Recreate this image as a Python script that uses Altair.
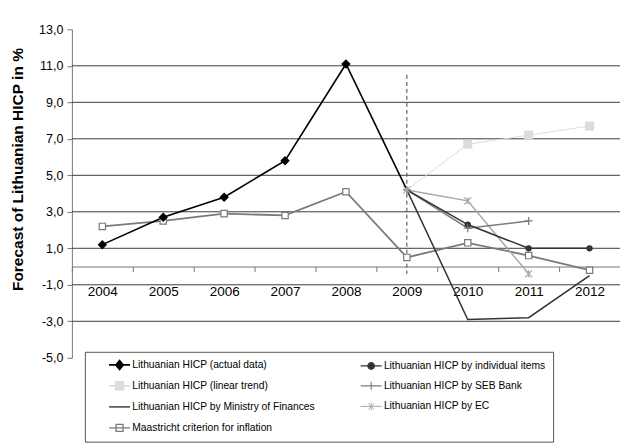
import altair as alt
import pandas as pd

# ---- values ---------------------------------------------------------------
years = ["2004", "2005", "2006", "2007", "2008", "2009", "2010", "2011", "2012"]

# legend order (two columns, filled top to bottom)
series_names = [
    "Lithuanian HICP (actual data)",
    "Lithuanian HICP (linear trend)",
    "Lithuanian HICP by Ministry of Finances",
    "Maastricht criterion for inflation",
    "Lithuanian HICP by individual items",
    "Lithuanian HICP by SEB Bank",
    "Lithuanian HICP by EC",
]
ACTUAL, TREND, MINISTRY, MAASTRICHT, ITEMS, SEB, EC = series_names

actual_years = ["2004", "2005", "2006", "2007", "2008", "2009"]
actual_values = [1.2, 2.7, 3.8, 5.8, 11.1, 4.2]

forecast_years = ["2009", "2010", "2011", "2012"]
trend_values = [4.2, 6.7, 7.2, 7.7]
ministry_values = [4.2, -2.9, -2.8, -0.5]
individual_values = [4.2, 2.3, 1.0, 1.0]

short_years = ["2009", "2010", "2011"]
seb_values = [4.2, 2.1, 2.5]
ec_values = [4.2, 3.6, -0.4]

maastricht_values = [2.2, 2.5, 2.9, 2.8, 4.1, 0.5, 1.3, 0.6, -0.2]

# start of forecasting period
split_year = "2009"
split_top = 10.5
split_bottom = -0.4

y_min, y_max = -5, 13
tick_values = list(range(-5, 14, 2))
grid_values = list(range(-3, 12, 2))

# ---- long table -----------------------------------------------------------
parts = [
    (ACTUAL, actual_years, actual_values),
    (TREND, forecast_years, trend_values),
    (MINISTRY, forecast_years, ministry_values),
    (MAASTRICHT, years, maastricht_values),
    (ITEMS, forecast_years, individual_values),
    (SEB, short_years, seb_values),
    (EC, short_years, ec_values),
]
rows = []
for name, ys, vs in parts:
    for yr, v in zip(ys, vs):
        rows.append({"series": name, "year": yr, "value": v})
df = pd.DataFrame(rows)

grid_df = pd.DataFrame({"value": grid_values})
split_df = pd.DataFrame({"year": [split_year], "value": [split_top], "bottom": [split_bottom]})

# ---- styling --------------------------------------------------------------
line_color = {
    ACTUAL: "#000000", TREND: "#dcdcdc", MINISTRY: "#333333", MAASTRICHT: "#7a7a7a",
    ITEMS: "#333333", SEB: "#7a7a7a", EC: "#a8a8a8",
}
line_width = {
    ACTUAL: 1.6, TREND: 1.0, MINISTRY: 1.5, MAASTRICHT: 1.8,
    ITEMS: 1.6, SEB: 1.5, EC: 1.5,
}
legend_fill = {
    ACTUAL: "#000000", TREND: "#dcdcdc", MINISTRY: "transparent", MAASTRICHT: "#ffffff",
    ITEMS: "#333333", SEB: "transparent", EC: "transparent",
}
# legend glyphs: a short line with the series marker on it
legend_shape = {
    ACTUAL: "M-2.1,0H2.1M-0.75,0L0,-0.9L0.75,0L0,0.9Z",
    TREND: "M-2.1,0H2.1M-0.8,-0.8H0.8V0.8H-0.8Z",
    MINISTRY: "M-2.1,0H2.1",
    MAASTRICHT: "M-2.1,0H2.1M-0.7,-0.7H0.7V0.7H-0.7Z",
    ITEMS: "M-2.1,0H2.1M0.65,0A0.65,0.65 0 1,1 -0.65,0A0.65,0.65 0 1,1 0.65,0Z",
    SEB: "M-2.1,0H2.1M0,-0.8V0.8",
    EC: "M-2.1,0H2.1M-0.6,-0.6L0.6,0.6M-0.6,0.6L0.6,-0.6M0,-0.8V0.8",
}
plus_path = "M-1,0H1M0,-1V1"
asterisk_path = "M-1,-1L1,1M-1,1L1,-1M0,-1V1"

W, H = 549, 329
zero_offset = -H * (0 - y_min) / (y_max - y_min)

FONT = "Liberation Sans"

x_enc = alt.X(
    "year:O",
    scale=alt.Scale(type="band", domain=years, paddingInner=0, paddingOuter=0),
    bandPosition=0.5,
    axis=alt.Axis(
        title=None,
        offset=zero_offset,
        tickBand="extent",
        labelAngle=0,
        labelFont=FONT,
        labelFontSize=13.5,
        labelColor="#000000",
        labelPadding=13,
        tickSize=5,
        tickColor="#777777",
        domainColor="#777777",
        grid=False,
    ),
)
y_scale = alt.Scale(domain=[y_min, y_max], nice=False, zero=False)
y_axis = alt.Axis(
    values=tick_values,
    labelExpr="replace(replace(format(datum.value, '.1f'), '.', ','), '\u2212', '-')",
    labelFont=FONT,
    labelFontSize=12.5,
    labelColor="#000000",
    labelPadding=4,
    tickSize=5,
    tickColor="#777777",
    domainColor="#777777",
    grid=False,
    title="Forecast of Lithuanian HICP in %",
    titleFont=FONT,
    titleFontSize=15.5,
    titleFontWeight="bold",
    titleColor="#000000",
    titleX=-54,
    titleY=140,
    titleAlign="center",
    titleBaseline="middle",
)
y_enc = alt.Y("value:Q", scale=y_scale, axis=y_axis)

base = alt.Chart(df)

grid = alt.Chart(grid_df).mark_rule(color="#3c3c3c", strokeWidth=1).encode(y=y_enc)

split_rule = alt.Chart(split_df).mark_rule(
    color="#444444", strokeWidth=1, strokeDash=[4, 3]
).encode(x=x_enc, y=y_enc, y2="bottom:Q")


def series_line(name):
    return base.transform_filter(f"datum.series == '{name}'").mark_line(
        color=line_color[name], strokeWidth=line_width[name]
    ).encode(x=x_enc, y=y_enc)


def markers(name, expr="true", **mark_kw):
    return base.transform_filter(
        f"datum.series == '{name}' && ({expr})"
    ).mark_point(opacity=1, **mark_kw).encode(x=x_enc, y=y_enc)


line_order = [MAASTRICHT, TREND, EC, SEB, MINISTRY, ITEMS, ACTUAL]
lines = [series_line(n) for n in line_order]

not_start = f"datum.year != '{split_year}'"
pts = [
    markers(MAASTRICHT, "true", shape="square", filled=False, size=40,
            stroke=line_color[MAASTRICHT], fill="#ffffff", strokeWidth=1.2),
    markers(ACTUAL, not_start, shape="diamond", filled=True, size=90, color=line_color[ACTUAL]),
    markers(TREND, not_start, shape="square", filled=True, size=81, color=line_color[TREND]),
    markers(ITEMS, not_start, shape="circle", filled=True, size=40, color=line_color[ITEMS]),
    markers(SEB, "true", shape=plus_path, filled=False, size=64, color=line_color[SEB], strokeWidth=1.2),
    markers(EC, "true", shape=asterisk_path, filled=False, size=49, color=line_color[EC], strokeWidth=1.2),
]

legend = alt.Legend(
    title=None,
    orient="none",
    legendX=13,
    legendY=323,
    columns=2,
    gridAlign="all",
    padding=7,
    symbolOffset=21.75,
    columnPadding=28,
    rowPadding=6.1,
    symbolSize=100,
    labelFont=FONT,
    labelFontSize=10.3,
    labelColor="#000000",
    labelOffset=6.75,
    labelLimit=400,
    strokeColor="#555555",
    fillColor="#ffffff",
)

# zero-size marks that carry the legend entries
legend_layer = base.mark_point(opacity=1, size=0).encode(
    x=x_enc,
    y=y_enc,
    stroke=alt.Stroke("series:N", scale=alt.Scale(domain=series_names, range=[line_color[n] for n in series_names]), legend=legend),
    fill=alt.Fill("series:N", scale=alt.Scale(domain=series_names, range=[legend_fill[n] for n in series_names]), legend=legend),
    shape=alt.Shape("series:N", scale=alt.Scale(domain=series_names, range=[legend_shape[n] for n in series_names]), legend=legend),
    strokeWidth=alt.StrokeWidth("series:N", scale=alt.Scale(domain=series_names, range=[line_width[n] for n in series_names]), legend=legend),
)

chart = alt.layer(
    grid, split_rule, *lines, *pts, legend_layer
).properties(
    width=W,
    height=H,
    autosize=alt.AutoSizeParams(type="none"),
    padding={"left": 72, "top": 29, "right": 0, "bottom": 89},
).configure_view(
    stroke=None
)

chart.save("out.html", embed_options={"renderer": "svg", "actions": False})
